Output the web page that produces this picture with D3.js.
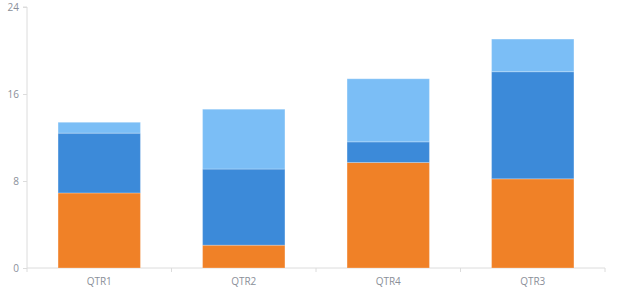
<!DOCTYPE html>
<html>
<head>
<meta charset="utf-8">
<script src="https://cdn.jsdelivr.net/npm/d3@7"></script>
<style>
  body { margin: 0; background: #fff; }
  .axis text { font-family: "Open Sans", sans-serif; font-size: 10px; fill: #8a8f99; }
  .axis path, .axis line { stroke: #dcdcdc; }
</style>
</head>
<body>
<div id="chart"></div>
<script>
// chart data
const quarters = ["QTR1", "QTR2", "QTR4", "QTR3"];
const seriesNames = ["base", "middle", "top"];
const baseValues = [6.9, 2.1, 9.7, 8.2];
const middleValues = [5.5, 7.0, 1.9, 9.85];
const topValues = [1.0, 5.5, 5.8, 3.0];
const yTicks = [0, 8, 16, 24];
const colors = ["#f08127", "#3c8ad9", "#7bbef6"];

const width = 620, height = 300;
const margin = { top: 7, right: 15, bottom: 32, left: 27 };

const rows = quarters.map((q, i) => ({
    quarter: q,
    base: baseValues[i],
    middle: middleValues[i],
    top: topValues[i]
}));

const svg = d3.select("#chart").append("svg")
    .attr("width", width)
    .attr("height", height);

const x = d3.scaleBand()
    .domain(quarters)
    .range([margin.left, width - margin.right])
    .paddingInner(0.43)
    .paddingOuter(0.215);

const y = d3.scaleLinear()
    .domain([0, 24])
    .range([height - margin.bottom, margin.top]);

// x axis: ticks sit on band edges, labels at band centres
const xAxisG = svg.append("g")
    .attr("class", "axis")
    .attr("transform", `translate(0,${y(0)})`);
xAxisG.append("line")
    .attr("x1", margin.left).attr("x2", width - margin.right)
    .attr("y1", 0).attr("y2", 0);
const step = (width - margin.left - margin.right) / quarters.length;
d3.range(quarters.length + 1).forEach(i => {
    xAxisG.append("line")
        .attr("x1", margin.left + i * step).attr("x2", margin.left + i * step)
        .attr("y1", 0).attr("y2", 4);
});
xAxisG.selectAll("text.lbl")
    .data(quarters)
    .enter()
    .append("text")
    .attr("class", "lbl")
    .attr("x", d => x(d) + x.bandwidth() / 2)
    .attr("y", 17)
    .attr("text-anchor", "middle")
    .text(d => d);

// y axis
const yAxis = d3.axisLeft(y).tickValues(yTicks).tickSize(4).tickPadding(4);
const yAxisG = svg.append("g")
    .attr("class", "axis")
    .attr("transform", `translate(${margin.left},0)`)
    .call(yAxis);
yAxisG.select(".domain").attr("d", `M-4,${y(24)}H0V${y(0)}`);

// stacked bars
const stack = d3.stack().keys(seriesNames);
const layers = stack(rows);

svg.append("g")
    .selectAll("g")
    .data(layers)
    .enter()
    .append("g")
    .attr("fill", (d, i) => colors[i])
    .selectAll("rect")
    .data(d => d)
    .enter()
    .append("rect")
    .attr("x", d => x(d.data.quarter))
    .attr("width", x.bandwidth())
    .attr("y", d => y(d[1]))
    .attr("height", d => y(d[0]) - y(d[1]))
    .attr("stroke", "#ffffff")
    .attr("stroke-opacity", 0.25)
    .attr("stroke-width", 1);
</script>
</body>
</html>
